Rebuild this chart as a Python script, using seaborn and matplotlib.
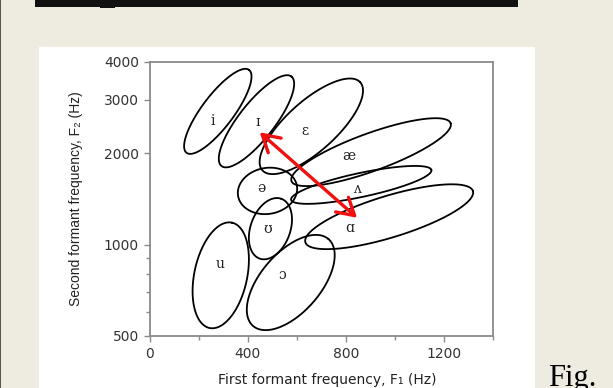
import numpy as np
import pandas as pd
import matplotlib
matplotlib.use('Agg')
import matplotlib.pyplot as plt
from matplotlib.patches import Rectangle
from matplotlib.ticker import FixedLocator, NullFormatter, FixedFormatter
import seaborn as sns

# ---------------- data ----------------
vowels = ['i', 'ɪ', 'ɛ', 'æ', 'ʌ', 'ɑ', 'ə', 'ʊ', 'u', 'ɔ']
center_f1 = [277, 435, 659, 903, 863, 977, 480, 492, 289, 575]
center_f2 = [2745, 2546, 2451, 2015, 1572, 1235, 1502, 1128, 792, 750]
semi_major_hz = [212, 232, 269, 346, 293, 358, 122, 130, 220, 235]
semi_minor_hz = [65, 73, 102, 77, 49, 85, 94, 81, 108, 122]
tilt_deg = [53, 52, 42, 20, 12, 17, 10, 70, 78, 49]
label_f1 = [256, 439, 631, 814, 846, 814, 456, 480, 285, 541]
label_f2 = [2546, 2526, 2360, 1953, 1527, 1137, 1536, 1128, 860, 792]
arrow_start = (448, 2343)
arrow_end = (846, 1225)
x_ticks = [0, 400, 800, 1200]
x_minor = [200, 600, 1000, 1400]
y_ticks = [500, 1000, 2000, 3000, 4000]
y_minor = [600, 700, 800, 900]
x_label = 'First formant frequency, F₁ (Hz)'
y_label = 'Second formant frequency, F₂ (Hz)'

# ---------------- figure ----------------
sns.set_style('ticks')
plt.rcParams['font.family'] = ['DejaVu Sans']

W, H = 613, 388
fig = plt.figure(figsize=(W / 100, H / 100), dpi=100, facecolor='#EEEBE0')

# slide decorations
fig.add_artist(Rectangle((39 / W, 0), 496 / W, (H - 46.7) / H, transform=fig.transFigure,
                         facecolor='white', edgecolor='none', zorder=0))
fig.add_artist(Rectangle((35 / W, 1 - 6.7 / H), 483 / W, 6.7 / H, transform=fig.transFigure,
                         facecolor='#111111', edgecolor='none', zorder=1))
fig.add_artist(Rectangle((100 / W, 1 - 7.6 / H), 15 / W, 7.6 / H, transform=fig.transFigure,
                         facecolor='#111111', edgecolor='none', zorder=1))
fig.add_artist(Rectangle((0, 0), 1.3 / W, 1, transform=fig.transFigure,
                         facecolor='#555555', edgecolor='none', zorder=1))

ax = fig.add_axes([150 / W, 1 - 336 / H, 342.7 / W, 274.3 / H])
ax.set_facecolor('white')
ax.set_yscale('log')
ax.set_xlim(0, 1400)
ax.set_ylim(500, 4000)

# pixel scales from the axes transform
p0 = ax.transData.transform((0, 500))
p1 = ax.transData.transform((1400, 4000))
sx = (p1[0] - p0[0]) / 1400.0          # px per Hz (F1)
sy = (p1[1] - p0[1]) / 3.0             # px per octave (F2)

rows = []
t = np.linspace(0, 2 * np.pi, 200)
for v, cx, cy, a, b, th in zip(vowels, center_f1, center_f2, semi_major_hz, semi_minor_hz, tilt_deg):
    r = np.deg2rad(th)
    ap, bp = a * sx, b * sx
    dx = ap * np.cos(t) * np.cos(r) - bp * np.sin(t) * np.sin(r)
    dy = ap * np.cos(t) * np.sin(r) + bp * np.sin(t) * np.cos(r)
    f1 = cx + dx / sx
    f2 = cy * 2 ** (dy / sy)
    for k, (x, y) in enumerate(zip(f1, f2)):
        rows.append((v, k, x, y))
df = pd.DataFrame(rows, columns=['vowel', 'k', 'F1', 'F2'])

sns.lineplot(data=df, x='F1', y='F2', units='vowel', estimator=None, sort=False,
             color='black', lw=1.3, ax=ax, legend=False)

for v, x, y in zip(vowels, label_f1, label_f2):
    ax.text(x, y, v, ha='center', va='center', fontsize=10, family='DejaVu Serif', color='#222222')

ax.annotate('', xy=arrow_end, xytext=arrow_start,
            arrowprops=dict(arrowstyle='<->,head_length=0.6,head_width=0.35', color='#F01010',
                            lw=2.4, mutation_scale=20, shrinkA=0, shrinkB=0))

ax.set_xlim(0, 1400)
ax.set_ylim(500, 4000)
ax.xaxis.set_major_locator(FixedLocator(x_ticks))
ax.xaxis.set_minor_locator(FixedLocator(x_minor))
ax.yaxis.set_major_locator(FixedLocator(y_ticks))
ax.yaxis.set_major_formatter(FixedFormatter([str(v) for v in y_ticks]))
ax.yaxis.set_minor_locator(FixedLocator(y_minor))
ax.yaxis.set_minor_formatter(NullFormatter())
ax.xaxis.set_minor_formatter(NullFormatter())

for s in ax.spines.values():
    s.set_color('#8a8a8a')
    s.set_linewidth(1.3)
ax.tick_params(which='both', direction='out', color='#8a8a8a', width=1.0, labelcolor='#333333',
               labelsize=10)
ax.tick_params(which='major', length=4, pad=4)
ax.tick_params(which='minor', length=3)

ax.set_xlabel(x_label, fontsize=10, color='#222222', family=['DejaVu Sans'])
ax.set_ylabel(y_label, fontsize=10, color='#222222', family=['Liberation Sans', 'DejaVu Sans'])
ax.xaxis.set_label_coords(0.518, -0.135)
ax.yaxis.set_label_coords(-0.196, 0.5)

fig.text(548 / W, 0.004, 'Fig.', fontsize=22, family='Liberation Serif', color='black',
         ha='left', va='baseline')

fig.savefig('out.png', dpi=100, facecolor=fig.get_facecolor())
